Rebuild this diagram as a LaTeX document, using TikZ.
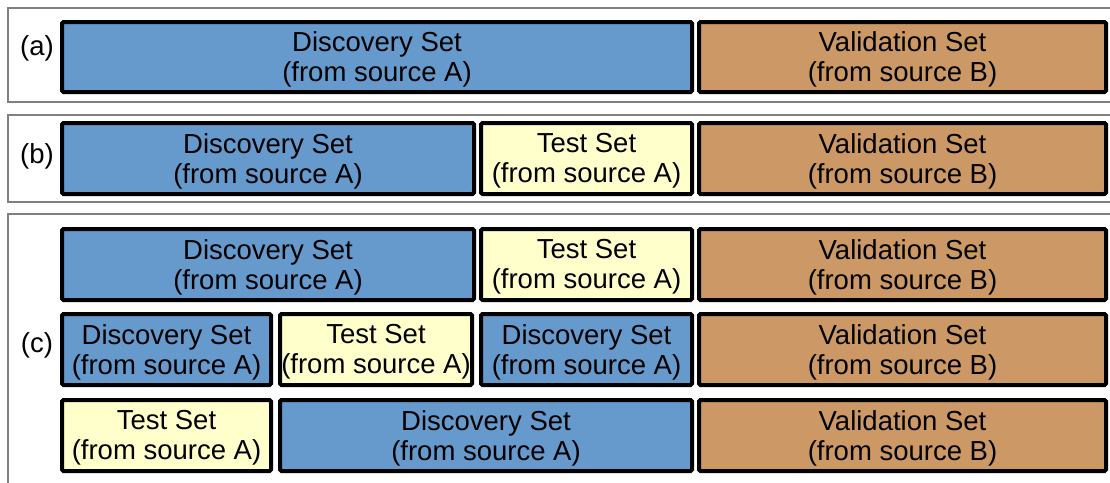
\documentclass[tikz,border=0pt]{standalone}
\usepackage{fontspec}
\setmainfont{Liberation Sans}
\definecolor{discblue}{HTML}{6699CC}
\definecolor{testyellow}{HTML}{FFFFCC}
\definecolor{valtan}{HTML}{CC9966}
\definecolor{framegray}{HTML}{808080}
\begin{document}
\begin{tikzpicture}[x=1pt,y=-1pt,
  setbox/.style={draw=black, line width=4pt, rounded corners=1.5pt, inner sep=0pt,
    minimum height=71pt},
  disc/.style={setbox, fill=discblue},
  test/.style={setbox, fill=testyellow},
  valid/.style={setbox, fill=valtan},
  settext/.style={align=center, inner sep=0pt, font=\fontsize{27.5}{30}\selectfont},
  panel/.style={draw=framegray, line width=1.3pt},
  tag/.style={font=\fontsize{27.5}{30}\selectfont, inner sep=0pt}]
\useasboundingbox (0,0) rectangle (1110,482);

% panel frames (open on the right)
\draw[panel] (1115,8) -- (8,8) -- (8,102) -- (1115,102);
\draw[panel] (1115,115) -- (8,115) -- (8,202) -- (1115,202);
\draw[panel] (1115,214) -- (8,214) -- (8,490);

\node[tag] (la) at (37,48) {(a)};
\node[tag] (lb) at (37,156) {(b)};
\node[tag] (lc) at (37,345) {(c)};

% (a)
\node[disc, minimum width=630pt, minimum height=70pt] (a1) at (377,57) {};
\node[valid, minimum width=407pt, minimum height=70pt] (a2) at (902.5,57) {};

% (b)
\node[disc, minimum width=412pt] (b1) at (268,158.5) {};
\node[test, minimum width=211pt] (b2) at (586.5,158.5) {};
\node[valid, minimum width=407pt] (b3) at (902.5,158.5) {};

% (c) first split
\node[disc, minimum width=412pt] (c11) at (268,264.5) {};
\node[test, minimum width=211pt] (c12) at (586.5,264.5) {};
\node[valid, minimum width=407pt] (c13) at (902.5,264.5) {};

% (c) second split
\node[disc, minimum width=209pt] (c21) at (166.5,349.5) {};
\node[test, minimum width=192pt] (c22) at (376,349.5) {};
\node[disc, minimum width=211pt] (c23) at (586.5,349.5) {};
\node[valid, minimum width=407pt] (c24) at (902.5,349.5) {};

% (c) third split
\node[test, minimum width=209pt] (c31) at (166.5,435.5) {};
\node[disc, minimum width=412pt] (c32) at (486,435.5) {};
\node[valid, minimum width=407pt] (c33) at (902.5,435.5) {};

% box captions, set slightly below each box centre
\foreach \b/\t in {a1/Discovery Set\\(from source A), a2/Validation Set\\(from source B),
                   b1/Discovery Set\\(from source A), b2/Test Set\\(from source A), b3/Validation Set\\(from source B),
                   c11/Discovery Set\\(from source A), c12/Test Set\\(from source A), c13/Validation Set\\(from source B),
                   c21/Discovery Set\\(from source A), c22/Test Set\\(from source A), c23/Discovery Set\\(from source A), c24/Validation Set\\(from source B),
                   c31/Test Set\\(from source A), c32/Discovery Set\\(from source A), c33/Validation Set\\(from source B)}
  \node[settext] (\b-text) at ([yshift=-2.5pt]\b.center) {\t};
\end{tikzpicture}
\end{document}
